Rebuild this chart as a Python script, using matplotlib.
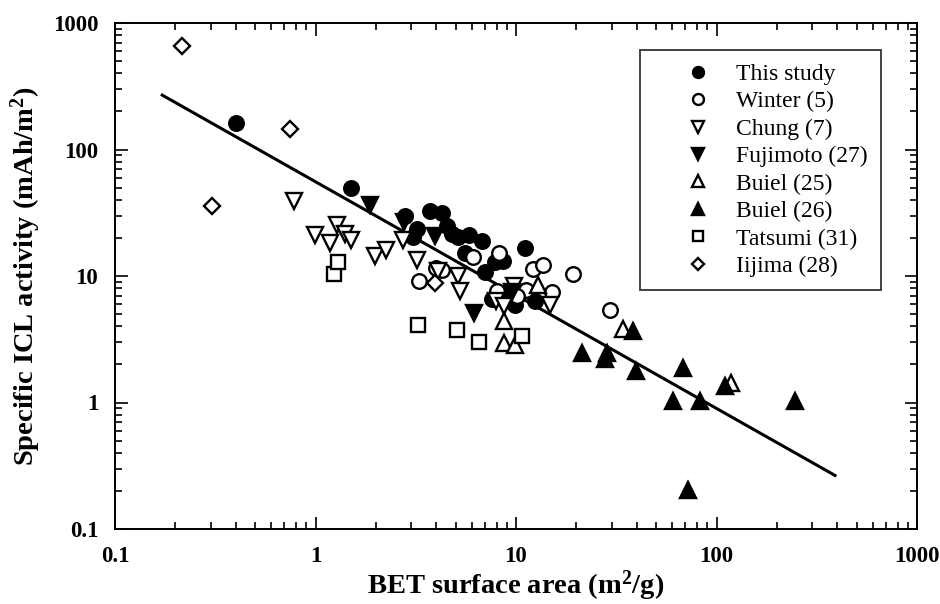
import numpy as np
import matplotlib
matplotlib.use("Agg")
import matplotlib.pyplot as plt
from matplotlib.ticker import LogLocator, FixedLocator, FixedFormatter, NullFormatter

plt.rcParams['font.family'] = ['Liberation Serif', 'DejaVu Serif']
plt.rcParams['mathtext.fontset'] = 'custom'
plt.rcParams['mathtext.rm'] = 'Liberation Serif'
plt.rcParams['mathtext.bf'] = 'Liberation Serif:bold'
plt.rcParams['mathtext.it'] = 'Liberation Serif:italic'

# ---- data ----
study_x = [0.40, 1.50, 2.79, 3.22, 3.05, 3.73, 4.29, 4.54, 4.77, 5.15, 5.85, 6.75, 5.57, 7.0, 7.85, 8.65, 11.1, 7.62, 9.9, 12.4, 8.9, 10.1]
study_y = [163, 49.8, 30.0, 23.5, 20.3, 32.5, 31.2, 25.0, 21.3, 20.4, 21.0, 18.8, 15.1, 10.7, 12.9, 13.1, 16.5, 6.6, 5.95, 6.4, 7.4, 6.9]

winter_x = [3.30, 3.99, 4.29, 6.12, 8.26, 12.1, 13.7, 19.2, 29.6, 8.0, 11.2, 15.1, 10.1]
winter_y = [9.1, 11.6, 11.1, 14.2, 15.1, 11.4, 12.3, 10.4, 5.37, 7.6, 7.7, 7.45, 7.0]

chung_x = [0.784, 0.99, 1.18, 1.28, 1.40, 1.51, 1.98, 2.26, 2.74, 3.2, 4.08, 5.15, 5.26, 7.95, 9.8, 8.7, 14.8]
chung_y = [39, 21, 18.3, 25.5, 21.3, 19.4, 14.3, 16, 19.4, 13.3, 10.9, 10.0, 7.6, 6.3, 8.3, 5.77, 5.85]

fuji_x = [1.88, 2.76, 3.95, 6.18, 9.5]
fuji_y = [36.5, 26.5, 20.9, 5.1, 7.5]

buiel25_x = [8.7, 8.7, 9.9, 12.9, 34.3, 118]
buiel25_y = [4.39, 2.96, 2.87, 8.5, 3.78, 1.43]

buiel26_x = [21.3, 27.8, 28.5, 38.5, 39.7, 61, 68.4, 72.3, 82.8, 110, 247]
buiel26_y = [2.47, 2.19, 2.47, 3.66, 1.77, 1.02, 1.88, 0.205, 1.02, 1.35, 1.02]

tatsumi_x = [1.23, 1.30, 3.24, 5.09, 6.56, 10.7]
tatsumi_y = [10.3, 13.0, 4.1, 3.73, 3.02, 3.34]

iijima_x = [0.215, 0.305, 0.749, 3.95]
iijima_y = [656, 35.6, 144, 8.8]

fit_x_range = [0.172, 390]
fit_coef = 55.6
fit_exp = -0.896

labels = ["This study", "Winter (5)", "Chung (7)", "Fujimoto (27)",
          "Buiel (25)", "Buiel (26)", "Tatsumi (31)", "Iijima (28)"]
tick_vals = [0.1, 1, 10, 100, 1000]
tick_labels = ["0.1", "1", "10", "100", "1000"]

# ---- plot ----
fig = plt.figure(figsize=(9.4, 6.04), dpi=100)
ax = fig.add_axes([115/940, 1-529/604, (917-115)/940, (529-23)/604])

xf = np.logspace(np.log10(fit_x_range[0]), np.log10(fit_x_range[1]), 50)
ax.plot(xf, fit_coef * xf**fit_exp, color='black', lw=2.2, zorder=1)

ms = 10.5
mew = 1.7
series = [
    (study_x, study_y, 'o', 'black', ms),
    (winter_x, winter_y, 'o', 'white', ms),
    (chung_x, chung_y, 'v', 'white', ms + 0.5),
    (fuji_x, fuji_y, 'v', 'black', ms + 0.5),
    (buiel25_x, buiel25_y, '^', 'white', ms + 0.5),
    (buiel26_x, buiel26_y, '^', 'black', ms + 0.5),
    (tatsumi_x, tatsumi_y, 's', 'white', ms - 1),
    (iijima_x, iijima_y, 'D', 'white', ms - 2.5),
]
handles = []
for (xs, ys, m, fc, s), lab in zip(series, labels):
    h, = ax.plot(xs, ys, linestyle='none', marker=m, markersize=s,
                 markerfacecolor=fc, markeredgecolor='black', markeredgewidth=mew,
                 label=lab, zorder=3)
    handles.append(h)

ax.set_xscale('log')
ax.set_yscale('log')
ax.set_xlim(0.1, 1000)
ax.set_ylim(0.1, 1000)

for axis in (ax.xaxis, ax.yaxis):
    axis.set_major_locator(FixedLocator(tick_vals))
    axis.set_major_formatter(FixedFormatter(tick_labels))
    axis.set_minor_locator(LogLocator(base=10, subs=np.arange(2, 10)))
    axis.set_minor_formatter(NullFormatter())

ax.tick_params(which='both', direction='in', top=True, right=True, width=1.2)
ax.tick_params(which='major', length=9, labelsize=16.5, pad=12)
ax.tick_params(which='minor', length=5)
for lab in ax.get_xticklabels() + ax.get_yticklabels():
    lab.set_fontweight('bold')
for sp in ax.spines.values():
    sp.set_linewidth(1.4)

ax.set_xlabel(r"BET surface area (m$^{\mathbf{2}}$/g)", fontsize=20.5, fontweight='bold')
ax.set_ylabel(r"Specific ICL activity (mAh/m$^{\mathbf{2}}$)", fontsize=20.5, fontweight='bold')
ax.xaxis.set_label_coords(0.5, -0.079)
ax.yaxis.set_label_coords(-0.09, 0.5)

leg = ax.legend(handles=handles, loc='upper right',
                bbox_to_anchor=((881-115)/802, (529-50)/506),
                borderaxespad=0.0,
                fontsize=17, frameon=True, fancybox=False, edgecolor='black',
                markerscale=0.75, handletextpad=-0.3, labelspacing=0.25,
                borderpad=0.57, handlelength=3.8)
leg.get_frame().set_linewidth(1.3)

fig.savefig("out.png", dpi=100)
